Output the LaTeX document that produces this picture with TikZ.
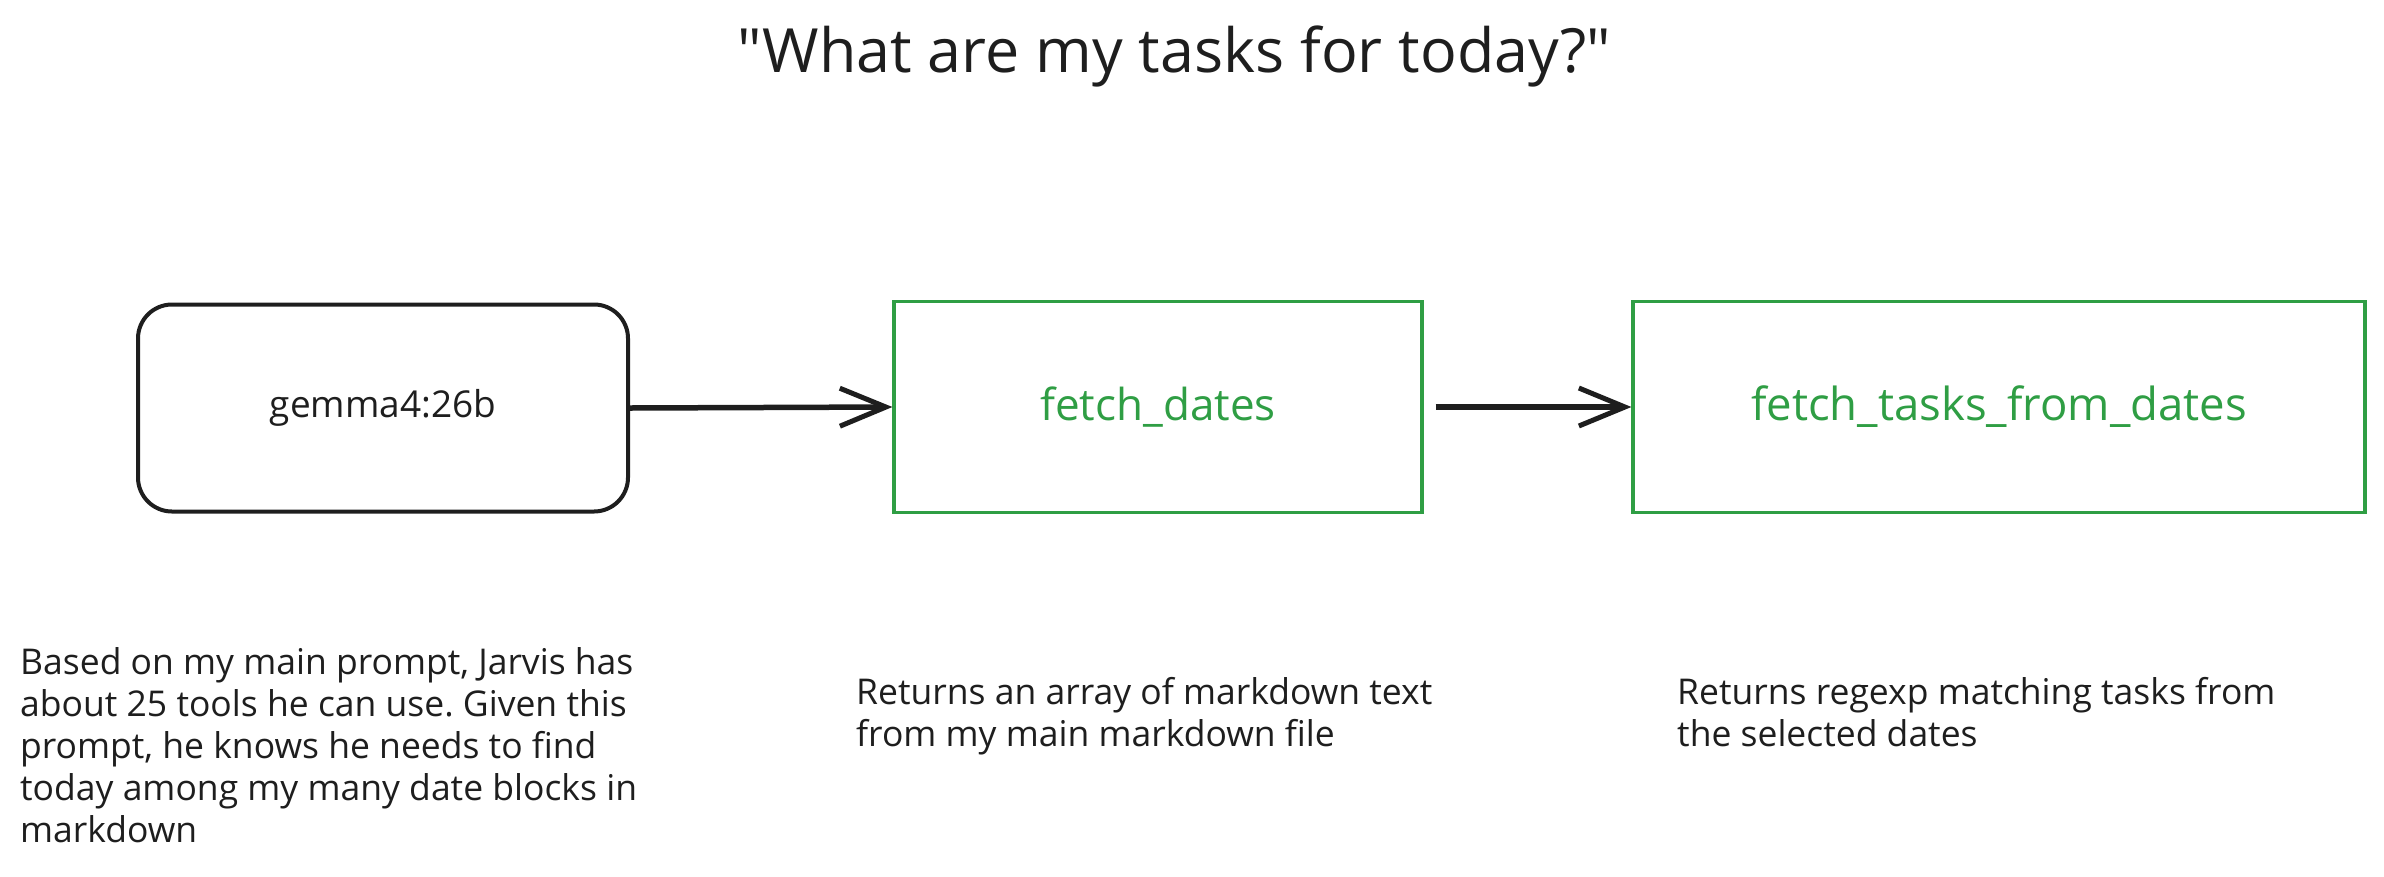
\documentclass[tikz,border=0pt]{standalone}
\usepackage{fontspec}
\setmainfont{Open Sans}[Ligatures=TeXOff]
\usetikzlibrary{arrows.meta}
\definecolor{ink}{HTML}{1E1E1E}
\definecolor{exgreen}{HTML}{2F9E44}
\tikzset{
  blackbox/.style={draw=ink, line width=4pt, rounded corners=34pt, minimum width=490pt, minimum height=207pt, inner sep=0pt, text=ink, font=\fontsize{37}{44}\selectfont},
  greenbox/.style={draw=exgreen, line width=3.2pt, inner sep=0pt, text=exgreen},
  flow/.style={draw=ink, line width=5.5pt, -{Straight Barb[length=46pt,width=38pt,line width=5pt]}},
  note/.style={anchor=north west, align=left, inner sep=0pt, text=ink, font=\fontsize{35.5}{42}\selectfont\frenchspacing},
}
\begin{document}
\begin{tikzpicture}[x=1pt,y=-1pt]
\useasboundingbox (0,0) rectangle (2384,876);
\node[text=ink, font=\fontsize{61}{70}\selectfont] (title) at (1174,56) {"What are my tasks for today?"};
\node[blackbox] (gemma) at (383,408) {gemma4:26b};
\node[greenbox, minimum width=528pt, minimum height=211pt, font=\fontsize{44}{52}\selectfont] (fd) at (1158,407) {fetch\_dates};
\node[greenbox, minimum width=732pt, minimum height=211pt, font=\fontsize{45.5}{54}\selectfont] (ft) at (1999,407) {fetch\_tasks\_from\_dates};
\draw[flow] (gemma.east) -- (fd.west);
\draw[flow] ([xshift=12pt]fd.east) -- (ft.west);
\node[note] (n1) at (20,647) {Based on my main prompt, Jarvis has\\about 25 tools he can use. Given this\\prompt, he knows he needs to find\\today among my many date blocks in\\markdown};
\node[note] (n2) at (856,677) {Returns an array of markdown text\\from my main markdown file};
\node[note] (n3) at (1677,677) {Returns regexp matching tasks from\\the selected dates};
\end{tikzpicture}
\end{document}
